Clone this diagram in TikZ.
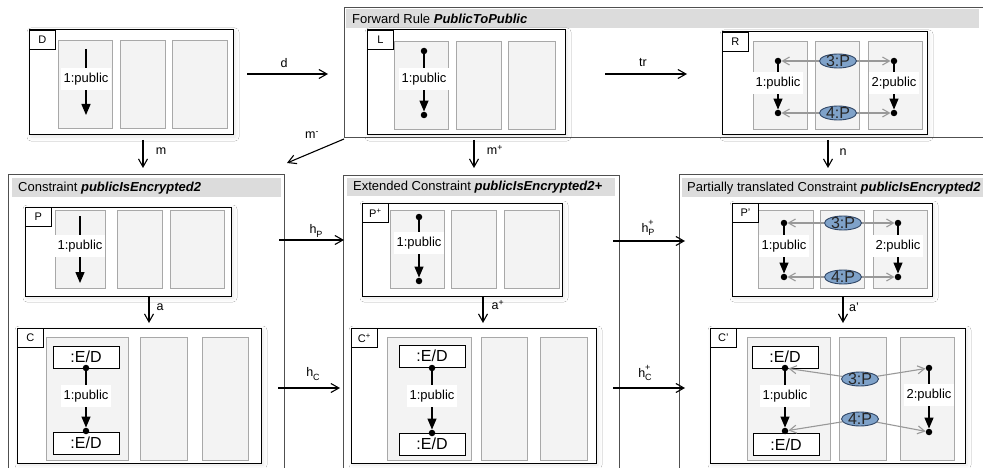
\documentclass[tikz,border=0pt]{standalone}
\usepackage{fontspec}
\setmainfont{Liberation Sans}
\usetikzlibrary{arrows.meta,shapes.geometric,shadows.blur}
\definecolor{lanefill}{HTML}{F3F3F3}
\definecolor{laneline}{HTML}{A8A8A8}
\definecolor{headfill}{HTML}{DCDCDC}
\definecolor{pfill}{HTML}{7FA2C9}
\definecolor{pline}{HTML}{2F4565}
\definecolor{garr}{HTML}{999999}
\definecolor{outl}{HTML}{505050}
\newcommand{\fs}[1]{\fontsize{#1}{#1}\selectfont}
\newcommand{\ptx}[1]{\smash{\raisebox{-0.36em}{#1}}}
\newcommand{\hsb}[1]{h\raisebox{-0.5ex}{\fs{9}#1}}
\newcommand{\hsbp}[1]{h\makebox[0pt][l]{\raisebox{0.95ex}{\fs{9}+}}\raisebox{-0.5ex}{\fs{9}#1}}
\tikzset{
  obox/.style={draw=outl, line width=0.9pt},
  gbox/.style={draw=black, fill=white, line width=1pt, inner sep=0,
    blur shadow={shadow xshift=2pt, shadow yshift=-2pt, shadow blur radius=4pt, shadow opacity=10}},
  lane/.style={draw=laneline, fill=lanefill, line width=0.9pt},
  tag/.style={draw=black, fill=white, line width=0.8pt, inner sep=0, minimum width=26pt, minimum height=19pt, font=\fs{11}, anchor=north west},
  head/.style={anchor=west, inner sep=0, font=\fs{13}},
  lbl/.style={fill=white, inner xsep=3pt, inner ysep=5pt, font=\fs{13}},
  ed/.style={draw=black, fill=white, line width=1pt, inner sep=0, minimum width=66pt, minimum height=22pt, font=\fs{16}},
  dot/.style={circle, fill=black, inner sep=0, minimum size=6.5pt},
  pnode/.style={ellipse, draw=pline, fill=pfill, line width=0.9pt, minimum width=37pt, minimum height=14pt, inner sep=0, font=\fs{16}, text=black!85},
  pub/.style={line width=1.3pt, -{Triangle[length=11pt,width=9pt]}},
  garrow/.style={draw=garr, line width=1.1pt, -{Straight Barb[length=7pt,width=8pt]}},
  maparrow/.style={line width=1.1pt, -{Straight Barb[length=8pt,width=9pt]}},
  mlab/.style={inner sep=0, font=\fs{12.5}},
}
\begin{document}
\begin{tikzpicture}[x=1pt,y=-1pt]
\useasboundingbox (0,0) rectangle (983,468);
\clip (0,0) rectangle (983,468);
\fill[white] (0,0) rectangle (983,468);

% ---------- outer frames ----------
\draw[obox] (344,7) rectangle (1010,137);
\fill[headfill] (346,9) rectangle (979,28);
\node[head] (FRh) at (352,18.5) {Forward Rule \textbf{\textit{PublicToPublic}}};

\draw[obox] (8,174) rectangle (284,500);
\fill[headfill] (12,178) rectangle (281,197);
\node[head] (CSh) at (18,188) {Constraint \textbf{\textit{publicIsEncrypted2}}};

\draw[obox] (343,175) rectangle (619,500);
\fill[headfill] (347,178) rectangle (615,196);
\node[head] (EXh) at (353,187.5) {Extended Constraint \textbf{\textit{publicIsEncrypted2+}}};

\draw[obox] (679,174) rectangle (1010,500);
\fill[headfill] (682,178) rectangle (1010,197);
\node[head] (PTh) at (687,188) {Partially translated Constraint \textbf{\textit{publicIsEncrypted2}}};

% ---------- D ----------
\node[gbox, minimum width=204pt, minimum height=105pt] (D) at (131,82.5) {};
\draw[lane] (58,40) rectangle (112,128);
\draw[lane] (120,40) rectangle (165,128);
\draw[lane] (172,40) rectangle (227,128);
\node[tag] (Dt) at (29,30) {D};
\coordinate (Ds) at (86,49);
\coordinate (De) at (86,115);
\draw[pub] (Ds) -- (De);
\node[lbl] (Dl) at (86,79) {1:public};

% ---------- L ----------
\node[gbox, minimum width=198pt, minimum height=105pt] (L) at (466,82.5) {};
\draw[lane] (394,41) rectangle (448,129);
\draw[lane] (456,41) rectangle (501,129);
\draw[lane] (508,41) rectangle (555,129);
\node[tag] (Lt) at (367,30) {L};
\node[dot] (L1) at (424,51) {};
\node[dot] (L2) at (424,115) {};
\draw[pub] (L1) -- (L2);
\node[lbl] (Ll) at (424,79) {1:public};

% ---------- R ----------
\node[gbox, minimum width=205pt, minimum height=103pt] (R) at (824.5,83.5) {};
\draw[lane] (753,41) rectangle (807,129);
\draw[lane] (815,41) rectangle (859,129);
\draw[lane] (868,41) rectangle (922,129);
\node[tag] (Rt) at (722,32) {R};
\node[dot] (R1) at (778,61) {};
\node[dot] (R2) at (778,113) {};
\node[dot] (R3) at (894,61) {};
\node[dot] (R4) at (894,113) {};
\draw[pub] (R1) -- (R2);
\draw[pub] (R3) -- (R4);
\node[lbl] (Rl1) at (778,83) {1:public};
\node[lbl] (Rl2) at (894,83) {2:public};
\node[pnode] (R3P) at (838,61) {\ptx{3:P}};
\node[pnode] (R4P) at (838,113) {\ptx{4:P}};
\draw[garrow] (R3P) -- (R1);
\draw[garrow] (R3P) -- (R3);
\draw[garrow] (R4P) -- (R2);
\draw[garrow] (R4P) -- (R4);

% ---------- P ----------
\node[gbox, minimum width=206pt, minimum height=89pt] (P) at (128,251.5) {};
\draw[lane] (55,210) rectangle (105,288);
\draw[lane] (117,210) rectangle (162,288);
\draw[lane] (170,210) rectangle (224,288);
\node[tag] (Pt) at (25,207) {P};
\coordinate (Ps) at (80,216);
\coordinate (Pe) at (80,283);
\draw[pub] (Ps) -- (Pe);
\node[lbl] (Pl) at (80,246) {1:public};

% ---------- P+ ----------
\node[gbox, minimum width=200pt, minimum height=93pt] (Pp) at (462,249.5) {};
\draw[lane] (390,210) rectangle (444,288);
\draw[lane] (451,210) rectangle (496,288);
\draw[lane] (504,210) rectangle (559,288);
\node[tag] (Ppt) at (362,203) {P\textsuperscript{+}};
\node[dot] (Pp1) at (419,217) {};
\node[dot] (Pp2) at (419,281) {};
\draw[pub] (Pp1) -- (Pp2);
\node[lbl] (Ppl) at (419,243) {1:public};

% ---------- P' ----------
\node[gbox, minimum width=200pt, minimum height=93pt] (Pq) at (832,249.5) {};
\draw[lane] (758,210) rectangle (813,288);
\draw[lane] (820,210) rectangle (864,288);
\draw[lane] (873,210) rectangle (927,288);
\node[tag] (Pqt) at (732,203) {P'};
\node[dot] (Pq1) at (784,223) {};
\node[dot] (Pq2) at (784,277) {};
\node[dot] (Pq3) at (898,223) {};
\node[dot] (Pq4) at (898,277) {};
\draw[pub] (Pq1) -- (Pq2);
\draw[pub] (Pq3) -- (Pq4);
\node[lbl] (Pql1) at (784,246) {1:public};
\node[lbl] (Pql2) at (898,246) {2:public};
\node[pnode] (Pq3P) at (843,223) {\ptx{3:P}};
\node[pnode] (Pq4P) at (843,277) {\ptx{4:P}};
\draw[garrow] (Pq3P) -- (Pq1);
\draw[garrow] (Pq3P) -- (Pq3);
\draw[garrow] (Pq4P) -- (Pq2);
\draw[garrow] (Pq4P) -- (Pq4);

% ---------- C ----------
\node[gbox, minimum width=244pt, minimum height=135pt] (C) at (139,395.5) {};
\draw[lane] (46,337) rectangle (128,460);
\draw[lane] (140,337) rectangle (187,460);
\draw[lane] (202,337) rectangle (248,460);
\node[tag] (Ct) at (17,328) {C};
\node[ed] (Ce1) at (86,357) {:E/D};
\node[ed] (Ce2) at (86,443) {:E/D};
\node[dot] (C1) at (86,368) {};
\node[dot] (C2) at (86,431) {};
\draw[pub] (C1) -- (C2);
\node[lbl] (Cl) at (86,396) {1:public};

% ---------- C+ ----------
\node[gbox, minimum width=245pt, minimum height=135pt] (Cp) at (473.5,395.5) {};
\draw[lane] (387,337) rectangle (471,460);
\draw[lane] (481,337) rectangle (527,460);
\draw[lane] (540,337) rectangle (587,460);
\node[tag] (Cpt) at (351,328) {C\textsuperscript{+}};
\node[ed] (Cpe1) at (432,356) {:E/D};
\node[ed] (Cpe2) at (432,444) {:E/D};
\node[dot] (Cp1) at (432,368) {};
\node[dot] (Cp2) at (432,433) {};
\draw[pub] (Cp1) -- (Cp2);
\node[lbl] (Cpl) at (432,396) {1:public};

% ---------- C' ----------
\node[gbox, minimum width=255pt, minimum height=135pt] (Cq) at (837.5,395.5) {};
\draw[lane] (747,337) rectangle (830,460);
\draw[lane] (839,337) rectangle (886,460);
\draw[lane] (900,337) rectangle (954,460);
\node[tag] (Cqt) at (710,328) {C'};
\node[ed] (Cqe1) at (785,357) {:E/D};
\node[ed] (Cqe2) at (786,444.5) {:E/D};
\node[dot] (Cq1) at (785,368) {};
\node[dot] (Cq2) at (785,431) {};
\node[dot] (Cq3) at (929,368) {};
\node[dot] (Cq4) at (929,432) {};
\draw[pub] (Cq1) -- (Cq2);
\draw[pub] (Cq3) -- (Cq4);
\node[lbl] (Cql1) at (785,396) {1:public};
\node[lbl] (Cql2) at (929,395) {2:public};
\node[pnode] (Cq3P) at (860,379) {\ptx{3:P}};
\node[pnode] (Cq4P) at (860,419) {\ptx{4:P}};
\draw[garrow] (Cq3P) -- (Cq1);
\draw[garrow] (Cq3P) -- (Cq3);
\draw[garrow] (Cq4P) -- (Cq2);
\draw[garrow] (Cq4P) -- (Cq4);

% ---------- mapping arrows ----------
\coordinate (ds) at (247,74);   \coordinate (de) at (328,74);
\draw[maparrow] (ds) -- (de);
\node[mlab] (dl) at (284,63) {d};

\coordinate (trs) at (605,74);  \coordinate (tre) at (687,74);
\draw[maparrow] (trs) -- (tre);
\node[mlab] (trl) at (643,63) {tr};

\coordinate (ms) at (143,140);  \coordinate (me) at (143,168);
\draw[maparrow] (ms) -- (me);
\node[mlab] (ml) at (161,151) {m};

\coordinate (mms) at (344,139); \coordinate (mme) at (287,163);
\draw[maparrow] (mms) -- (mme);
\node[mlab] (mml) at (312,135) {m\textsuperscript{-}};

\coordinate (mps) at (474,140); \coordinate (mpe) at (474,168);
\draw[maparrow] (mps) -- (mpe);
\node[mlab] (mpl) at (495,150) {m\textsuperscript{+}};

\coordinate (ns) at (828,140);  \coordinate (ne) at (828,168);
\draw[maparrow] (ns) -- (ne);
\node[mlab] (nl) at (843,152) {n};

\coordinate (hps) at (279,240); \coordinate (hpe) at (344,240);
\draw[maparrow] (hps) -- (hpe);
\node[mlab] (hpl) at (316,231) {\hsb{P}};

\coordinate (hpps) at (613,241); \coordinate (hppe) at (685,241);
\draw[maparrow] (hpps) -- (hppe);
\node[mlab] (hppl) at (648,228) {\hsbp{P}};

\coordinate (as) at (149,297);  \coordinate (ae) at (149,323);
\draw[maparrow] (as) -- (ae);
\node[mlab] (al) at (160,307) {a};

\coordinate (aps) at (483,297); \coordinate (ape) at (483,323);
\draw[maparrow] (aps) -- (ape);
\node[mlab] (apl) at (498,305) {a\textsuperscript{+}};

\coordinate (aqs) at (843,297); \coordinate (aqe) at (843,323);
\draw[maparrow] (aqs) -- (aqe);
\node[mlab] (aql) at (854,307) {a'};

\coordinate (hcs) at (278,388); \coordinate (hce) at (340,388);
\draw[maparrow] (hcs) -- (hce);
\node[mlab] (hcl) at (313,374) {\hsb{C}};

\coordinate (hcps) at (613,388); \coordinate (hcpe) at (685,388);
\draw[maparrow] (hcps) -- (hcpe);
\node[mlab] (hcpl) at (645,373) {\hsbp{C}};
\end{tikzpicture}
\end{document}
